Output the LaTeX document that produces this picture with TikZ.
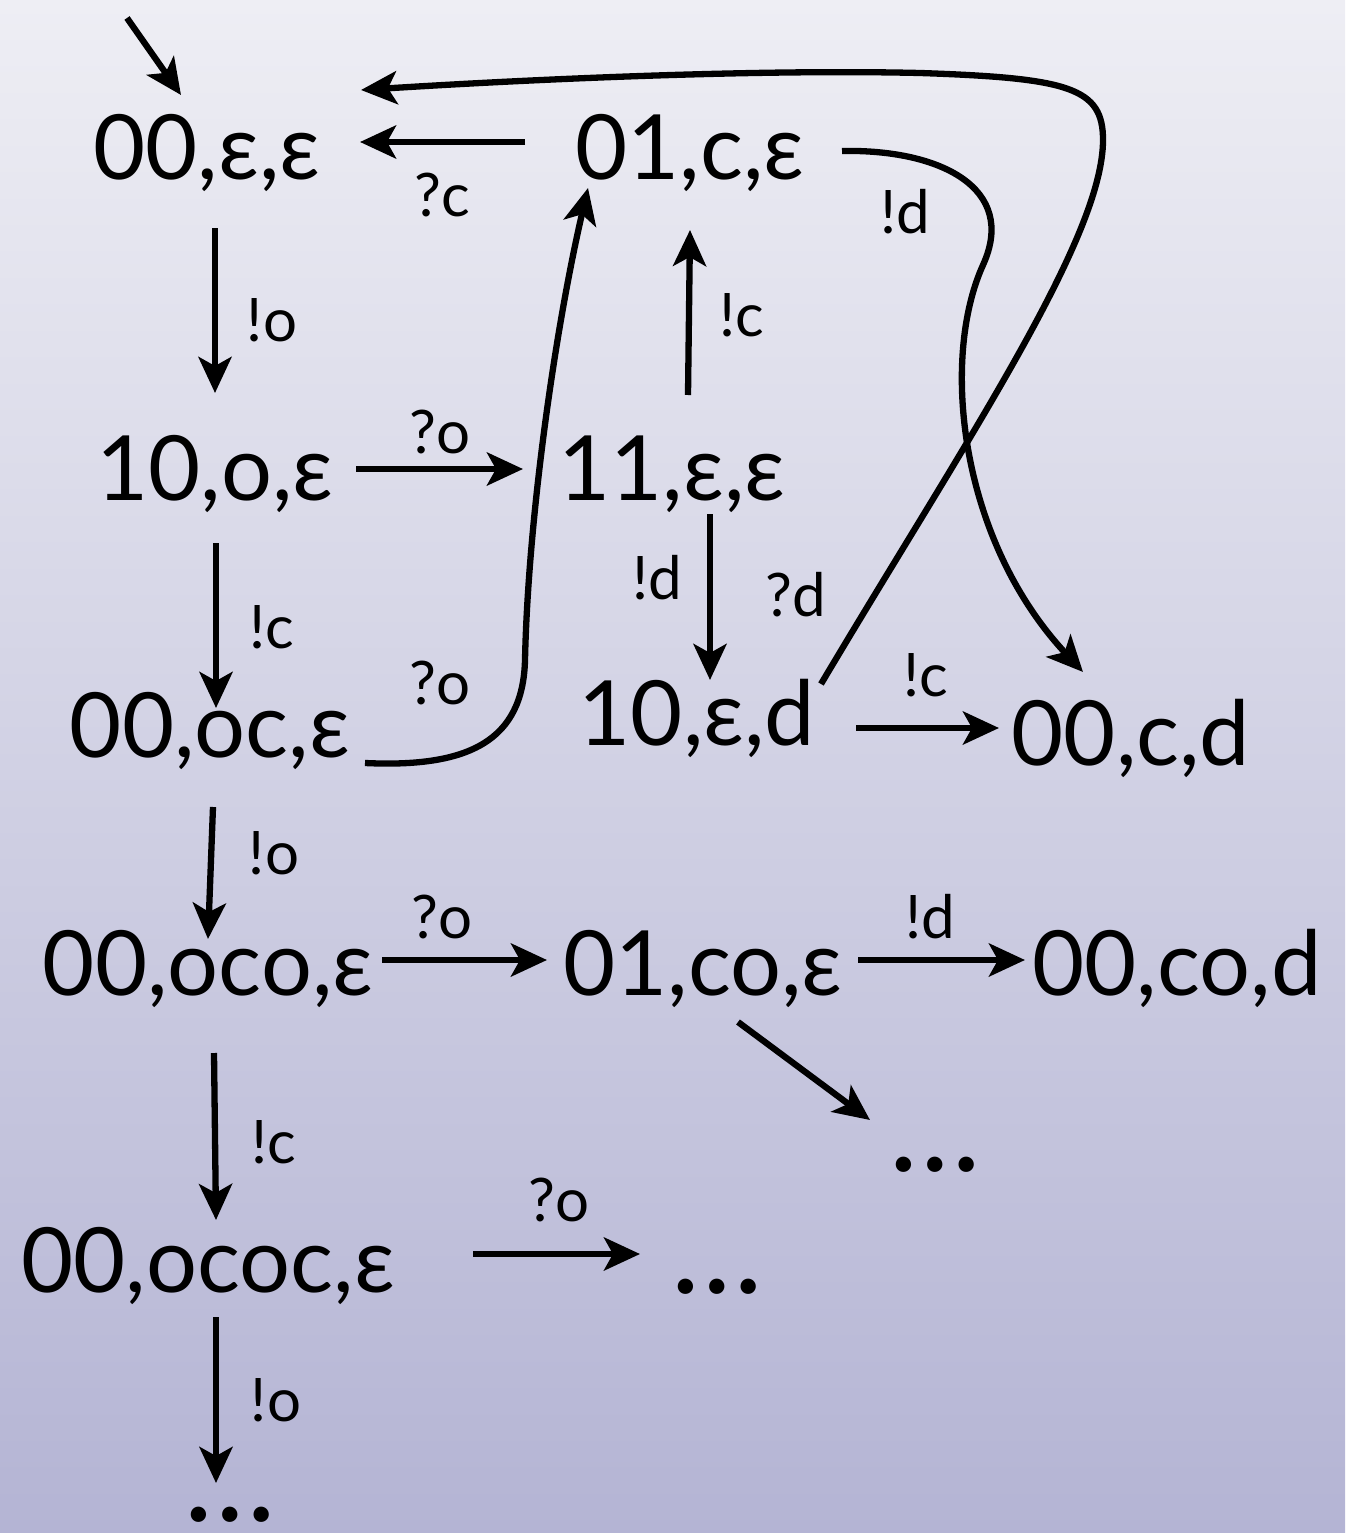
\documentclass[tikz,border=0pt]{standalone}
\usepackage{fontspec}
\setmainfont{Lato}
\usetikzlibrary{arrows.meta,calc}
\newcommand\stfont{\fontsize{90}{96}\selectfont}
\newcommand\dotsfont{\fontsize{122}{124}\selectfont}
\newcommand\lbfont{\fontsize{60}{64}\selectfont}
\definecolor{bgtop}{RGB}{238,238,244}
\definecolor{bgbot}{RGB}{180,180,212}
\begin{document}
\begin{tikzpicture}[x=1pt,y=-1pt,
  st/.style={inner sep=0pt, anchor=base, font=\stfont},
  dt/.style={inner sep=0pt, anchor=base, font=\dotsfont},
  lb/.style={inner sep=0pt, anchor=center, font=\lbfont},
  ar/.style={line width=6.3pt, -{Stealth[length=36pt,width=33pt,inset=9pt]}}]
\useasboundingbox (0,0) rectangle (1345,1533);
\shade[top color=bgtop,bottom color=bgbot] (0,0) rectangle (1345,1533);

% states
\node[st] (n0)  at (207,180)  {00,ε,ε};
\node[st] (n1)  at (690,180)  {01,c,ε};
\node[st] (n2)  at (215,500)  {10,o,ε};
\node[st] (n3)  at (672,500)  {11,ε,ε};
\node[st] (n4)  at (210,757)  {00,oc,ε};
\node[st] (n5)  at (697,745)  {10,ε,d};
\node[st] (n6)  at (1131,765) {00,c,d};
\node[st] (n7)  at (208,995)  {00,oco,ε};
\node[st] (n8)  at (703,995)  {01,co,ε};
\node[st] (n9)  at (1177,995) {00,co,d};
\node[dt] (n10) at (935,1171) {…};
\node[st] (n11) at (208,1292) {00,ococ,ε};
\node[dt] (n12) at (717,1293) {…};
\node[dt] (n13) at (230,1521) {…};

% labels
\node[lb] (l1)  at (442,195)  {?c};
\node[lb] (l2)  at (272,320)  {!o};
\node[lb] (l3)  at (440,432)  {?o};
\node[lb] (l4)  at (272,627)  {!c};
\node[lb] (l5)  at (440,683)  {?o};
\node[lb] (l6)  at (742,315)  {!c};
\node[lb] (l7)  at (905,212)  {!d};
\node[lb] (l8)  at (657,578)  {!d};
\node[lb] (l9)  at (796,595)  {?d};
\node[lb] (l10) at (926,675)  {!c};
\node[lb] (l11) at (274,853)  {!o};
\node[lb] (l12) at (442,917)  {?o};
\node[lb] (l13) at (930,917)  {!d};
\node[lb] (l14) at (274,1142) {!c};
\node[lb] (l15) at (559,1200) {?o};
\node[lb] (l16) at (276,1400) {!o};

% initial arrow
\coordinate (init) at (127,18);
\draw[ar] (init) -- ($(n0.base)+(-26,-85)$);

% straight transitions
\draw[ar] ($(n1.base)+(-165,-38)$) -- ($(n0.base)+(153,-38)$);
\draw[ar] ($(n0.base)+(8,48)$) -- ($(n2.base)+(0,-107)$);
\draw[ar] ($(n2.base)+(141,-31)$) -- ($(n3.base)+(-149,-31)$);
\draw[ar] ($(n3.base)+(16,-105)$) -- ($(n1.base)+(0,50)$);
\draw[ar] ($(n2.base)+(1,43)$) -- ($(n4.base)+(6,-49)$);
\draw[ar] ($(n3.base)+(38,14)$) -- ($(n5.base)+(13,-65)$);
\draw[ar] ($(n5.base)+(159,-17)$) -- ($(n6.base)+(-132,-37)$);
\draw[ar] ($(n4.base)+(3,50)$) -- ($(n7.base)+(0,-56)$);
\draw[ar] ($(n7.base)+(174,-35)$) -- ($(n8.base)+(-156,-35)$);
\draw[ar] ($(n8.base)+(155,-35)$) -- ($(n9.base)+(-152,-35)$);
\draw[ar] ($(n8.base)+(35,27)$) -- ($(n10.base)+(-65,-51)$);
\draw[ar] ($(n7.base)+(6,58)$) -- ($(n11.base)+(8,-72)$);
\draw[ar] ($(n11.base)+(265,-38)$) -- ($(n12.base)+(-77,-39)$);
\draw[ar] ($(n11.base)+(8,25)$) -- ($(n13.base)+(-14,-38)$);

% curved transitions
\draw[ar] ($(n4.base)+(155,6)$) .. controls (470,768) and (523,740) .. (525,660)
  .. controls (528,520) and (555,330) .. ($(n1.base)+(-102,8)$);
\draw[ar] ($(n1.base)+(152,-29)$) .. controls (940,149) and (1018,188) .. (983,265)
  .. controls (940,360) and (960,540) .. ($(n6.base)+(-48,-93)$);
\draw[ar] ($(n5.base)+(124,-61)$) .. controls (960,450) and (1103,240) .. (1103,140)
  .. controls (1103,88) and (1070,78) .. (920,73)
  .. controls (750,69) and (520,80) .. ($(n0.base)+(154,-90)$);
\end{tikzpicture}
\end{document}
